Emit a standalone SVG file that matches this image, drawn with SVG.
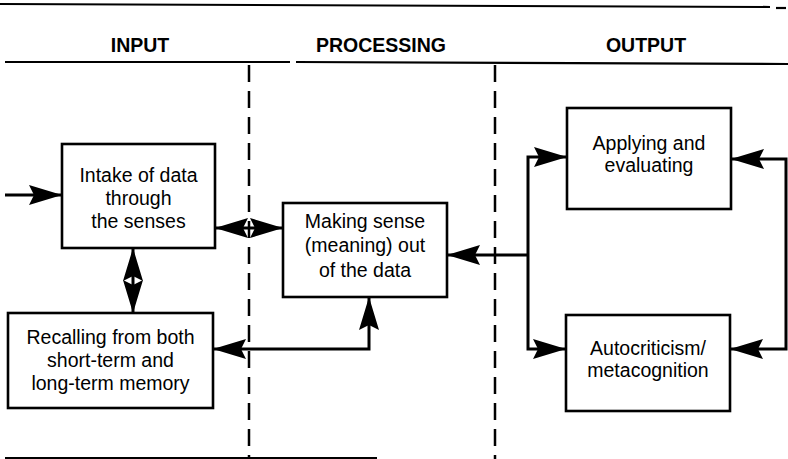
<svg xmlns="http://www.w3.org/2000/svg" width="788" height="459" viewBox="0 0 788 459">
<style>
.rule{stroke:#000;stroke-width:2.2;fill:none}
.dash{stroke:#000;stroke-width:2.5;stroke-dasharray:17 9;fill:none}
.box{fill:#fff;stroke:#000;stroke-width:2.6}
.hdr{font-family:"Liberation Sans",Arial,sans-serif;font-weight:bold;font-size:19.5px;text-anchor:middle;fill:#000}
.lbl{font-family:"Liberation Sans",Arial,sans-serif;font-size:19.5px;text-anchor:middle;fill:#000}
.con{stroke:#000;stroke-width:3;fill:none;marker-end:url(#ah)}
.both{marker-start:url(#ah)}
</style>
<defs>
<marker id="ah" markerUnits="userSpaceOnUse" markerWidth="34" markerHeight="20" refX="33" refY="10" orient="auto-start-reverse" viewBox="0 0 34 20">
<path d="M0,0 L33,10 L0,20 L5,10 z" fill="#000"/>
</marker>
</defs>
<g id="frame">
<line class="rule" x1="0" y1="4" x2="770" y2="7"/>
<line class="rule" x1="776" y1="8" x2="786" y2="8"/>
<line class="rule" x1="5" y1="62" x2="290" y2="62"/>
<line class="rule" x1="296" y1="62" x2="788" y2="64"/>
<line class="rule" x1="5" y1="458" x2="377" y2="458"/>
<line class="dash" x1="249" y1="65" x2="249" y2="459"/>
<line class="dash" x1="495" y1="65" x2="495" y2="459"/>
<text class="hdr" x="140" y="52">INPUT</text>
<text class="hdr" x="381" y="52">PROCESSING</text>
<text class="hdr" x="646" y="52">OUTPUT</text>
</g>
<g id="connectors">
<path class="con" d="M5,195 L62,195"/>
<path class="con both" d="M215,228 L283,228"/>
<path class="con both" d="M133,248 L133,313"/>
<path class="con both" d="M369,297 L369,349 L213,349"/>
<path class="con" d="M528,255 L447,255"/>
<path class="con both" d="M567,157 L528,157 L528,349 L566,349"/>
<path class="con both" d="M731,159 L786,159 L786,349 L730,349"/>
</g>
<g id="intake">
<rect class="box" x="62" y="144" width="153" height="104"/>
<text class="lbl" x="138.5" y="182">Intake of data</text>
<text class="lbl" x="138.5" y="205">through</text>
<text class="lbl" x="138.5" y="228">the senses</text>
</g>
<g id="recalling">
<rect class="box" x="8" y="313" width="205" height="95"/>
<text class="lbl" x="110.5" y="344">Recalling from both</text>
<text class="lbl" x="110.5" y="367">short-term and</text>
<text class="lbl" x="110.5" y="390">long-term memory</text>
</g>
<g id="making-sense">
<rect class="box" x="283" y="203" width="164" height="94"/>
<text class="lbl" x="365" y="228">Making sense</text>
<text class="lbl" x="365" y="252">(meaning) out</text>
<text class="lbl" x="365" y="277">of the data</text>
</g>
<g id="applying">
<rect class="box" x="567" y="108" width="164" height="101"/>
<text class="lbl" x="649" y="150">Applying and</text>
<text class="lbl" x="649" y="172">evaluating</text>
</g>
<g id="autocriticism">
<rect class="box" x="566" y="315" width="164" height="96"/>
<text class="lbl" x="648" y="355">Autocriticism/</text>
<text class="lbl" x="648" y="377">metacognition</text>
</g>
</svg>
